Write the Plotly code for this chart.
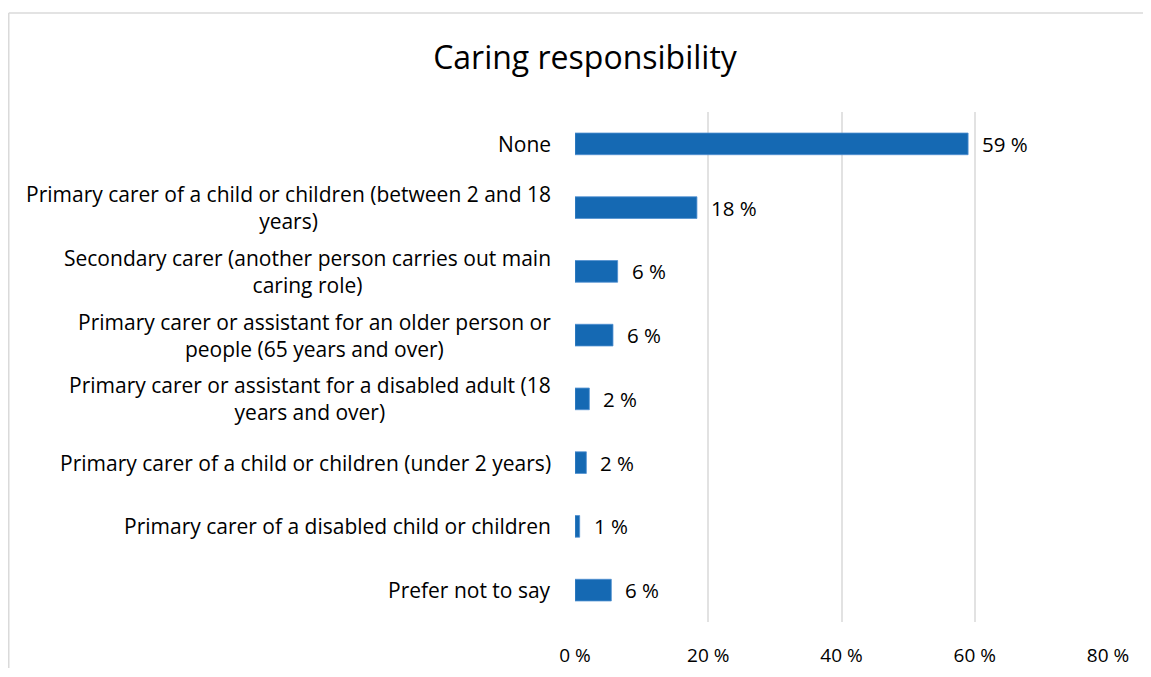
import plotly.graph_objects as go

categories = [
    "None",
    "Primary carer of a child or children (between 2 and 18<br>years)",
    "Secondary carer (another person carries out main<br>caring role)",
    "Primary carer or assistant for an older person or<br>people (65 years and over)",
    "Primary carer or assistant for a disabled adult (18<br>years and over)",
    "Primary carer of a child or children (under 2 years)",
    "Primary carer of a disabled child or children",
    "Prefer not to say",
]
values = [59.0, 18.3, 6.4, 5.7, 2.15, 1.7, 0.7, 5.45]
value_labels = ["59 %", "18 %", "6 %", "6 %", "2 %", "2 %", "1 %", "6 %"]
x_ticks = [0, 20, 40, 60, 80]
x_tick_labels = ["0 %", "20 %", "40 %", "60 %", "80 %"]

FONT = "Open Sans"
W, H = 1135, 660          # page has an 8px body margin
L, R, T, B = 567, 35, 104, 46
pw, ph = W - L - R, H - T - B

fig = go.Figure()
fig.add_trace(go.Bar(
    y=categories, x=values, orientation="h",
    marker=dict(color="#1569b3", line=dict(color="#4f8fd0", width=0.8)),
    width=0.34, hoverinfo="skip",
))

annotations = []
for c, v, t in zip(categories, values, value_labels):
    annotations.append(dict(
        x=v, y=c, xref="x", yref="y", text=t, showarrow=False,
        xanchor="left", yanchor="middle", xshift=12,
        font=dict(family=FONT, size=20.5, color="#000000"),
    ))
    annotations.append(dict(
        x=0, y=c, xref="paper", yref="y", text=c, showarrow=False,
        xanchor="right", yanchor="middle", align="center", xshift=-22,
        font=dict(family=FONT, size=21, color="#000000"),
    ))

# outer chart border (only its top and left edges are inside the reference crop)
border = dict(color="#dadada", width=1.5)
shapes = [
    dict(type="line", xref="paper", yref="paper",
         x0=(0.75 - L) / pw, x1=(W - L) / pw,
         y0=(H - B - 5) / ph, y1=(H - B - 5) / ph, line=border, layer="below"),
    dict(type="line", xref="paper", yref="paper",
         x0=(0.75 - L) / pw, x1=(0.75 - L) / pw,
         y0=(H - B - 5) / ph, y1=(H - B - H) / ph, line=border, layer="below"),
]

fig.update_layout(
    width=W, height=H,
    margin=dict(l=L, r=R, t=T, b=B, pad=0, autoexpand=False),
    paper_bgcolor="white", plot_bgcolor="white",
    showlegend=False,
    title=dict(text="Caring responsibility", x=577 / W, xanchor="center",
               y=1 - 50 / H, yanchor="middle", yref="container",
               font=dict(family=FONT, size=32, color="#000000")),
    xaxis=dict(range=[0, 80], tickvals=x_ticks, ticktext=x_tick_labels,
               showgrid=True, gridcolor="#e2e2e2", gridwidth=1.5,
               zeroline=False, showline=False, ticks="",
               ticklabelstandoff=20, automargin=False,
               tickfont=dict(family=FONT, size=19, color="#000000"),
               fixedrange=True),
    yaxis=dict(autorange="reversed", showticklabels=False, showgrid=False,
               zeroline=False, showline=False, ticks="", fixedrange=True,
               automargin=False),
    bargap=0.66,
    annotations=annotations,
    shapes=shapes,
)

fig.write_html("out.html")
